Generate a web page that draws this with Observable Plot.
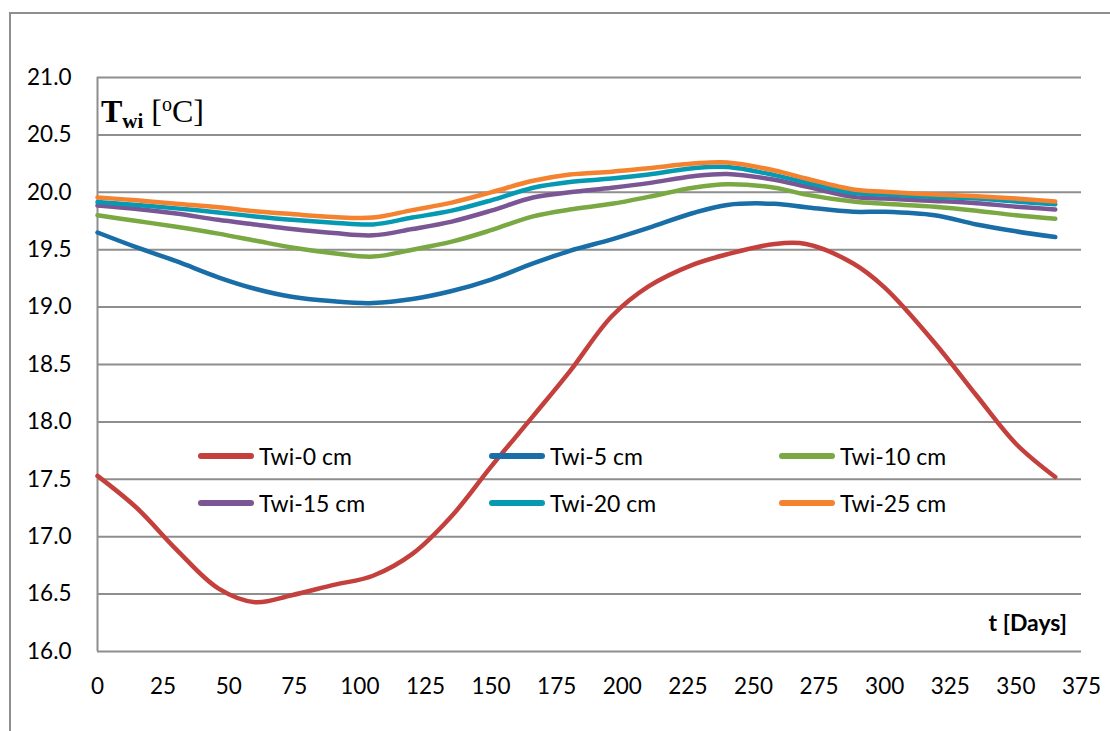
<!DOCTYPE html>
<html>
<head>
<meta charset="utf-8">
<script src="https://cdn.jsdelivr.net/npm/d3@7"></script>
<script src="https://cdn.jsdelivr.net/npm/@observablehq/plot@0.6"></script>
<style>
  html, body { margin: 0; padding: 0; background: #fff; }
  #wrap { position: relative; width: 1110px; height: 731px; overflow: hidden; background: #fff; }
  #frame { position: absolute; left: 9px; top: 12px; width: 1300px; height: 900px;
           border-left: 2px solid #8e8e8e; border-top: 2px solid #8e8e8e; }
  #chart { position: absolute; left: 0; top: 0; }
  #title { position: absolute; left: 101px; top: 94px; font-family: "Liberation Serif", serif;
           font-size: 32px; line-height: 1; color: #000; white-space: nowrap; }
  #title sub { font-size: 21px; font-weight: bold; vertical-align: -6px; }
  #title sup { font-size: 20px; vertical-align: 11px; }
  #xlabel { position: absolute; right: 43px; top: 608px; font-family: Lato, sans-serif;
            font-weight: bold; font-size: 23px; color: #000; white-space: nowrap; }
  #legend { position: absolute; left: 198px; top: 432px; font-family: Lato, sans-serif;
            font-size: 23px; color: #000; display: grid; grid-template-columns: 291px 290px 290px;
            grid-auto-rows: 47px; }
  .item { display: flex; align-items: center; white-space: nowrap; }
  .item svg { margin-right: 5px; }
</style>
</head>
<body>
<div id="wrap">
  <div id="frame"></div>
  <div id="chart"></div>
  <div id="title"><b>T<sub>wi</sub></b> [<sup>o</sup>C]</div>
  <div id="xlabel">t [Days]</div>
  <div id="legend"></div>
</div>
<script>
const days = [0, 15, 30, 46, 60, 74, 90, 105, 120, 135, 150, 166, 180, 196, 210, 227, 240, 258, 270, 288, 300, 319, 335, 350, 365];

const twi0  = [17.53, 17.25, 16.89, 16.55, 16.43, 16.49, 16.58, 16.66, 16.85, 17.18, 17.61, 18.05, 18.44, 18.92, 19.18, 19.37, 19.46, 19.55, 19.55, 19.38, 19.17, 18.69, 18.23, 17.81, 17.52];
const twi5  = [19.65, 19.52, 19.40, 19.26, 19.16, 19.09, 19.05, 19.035, 19.07, 19.14, 19.24, 19.38, 19.49, 19.59, 19.69, 19.82, 19.89, 19.90, 19.87, 19.83, 19.83, 19.80, 19.72, 19.66, 19.61];
const twi10 = [19.80, 19.75, 19.70, 19.64, 19.58, 19.52, 19.47, 19.44, 19.50, 19.57, 19.67, 19.79, 19.85, 19.90, 19.96, 20.04, 20.07, 20.04, 19.98, 19.92, 19.90, 19.875, 19.84, 19.80, 19.77];
const twi15 = [19.885, 19.855, 19.815, 19.76, 19.72, 19.68, 19.645, 19.625, 19.68, 19.745, 19.84, 19.955, 20.00, 20.04, 20.08, 20.14, 20.16, 20.11, 20.05, 19.96, 19.945, 19.925, 19.905, 19.875, 19.85];
const twi20 = [19.915, 19.89, 19.86, 19.825, 19.79, 19.76, 19.735, 19.72, 19.78, 19.84, 19.93, 20.04, 20.09, 20.12, 20.155, 20.21, 20.22, 20.15, 20.085, 19.995, 19.98, 19.96, 19.945, 19.92, 19.895];
const twi25 = [19.955, 19.93, 19.90, 19.87, 19.835, 19.81, 19.785, 19.78, 19.845, 19.91, 20.00, 20.10, 20.155, 20.18, 20.21, 20.25, 20.26, 20.19, 20.12, 20.025, 20.005, 19.98, 19.965, 19.945, 19.92];

const seriesNames = ["Twi-0 cm", "Twi-5 cm", "Twi-10 cm", "Twi-15 cm", "Twi-20 cm", "Twi-25 cm"];
const seriesColors = ["#c4403d", "#1a6ea8", "#7aa843", "#7a5694", "#069ab2", "#f5822e"];
const xTicks = [0, 25, 50, 75, 100, 125, 150, 175, 200, 225, 250, 275, 300, 325, 350, 375];
const yTicks = [16.0, 16.5, 17.0, 17.5, 18.0, 18.5, 19.0, 19.5, 20.0, 20.5, 21.0];

const seriesValues = [twi0, twi5, twi10, twi15, twi20, twi25];
const data = seriesNames.flatMap((name, k) =>
  days.map((t, i) => ({ t, v: seriesValues[k][i], name })));

const gridColor = "#8e8e8e";

const chart = Plot.plot({
  width: 1110,
  height: 731,
  marginLeft: 97,
  marginRight: 29,
  marginTop: 77,
  marginBottom: 80,
  style: { fontFamily: "Lato, sans-serif", fontSize: "22.5px", color: "#000", background: "transparent", overflow: "visible" },
  x: { domain: [0, 375], ticks: xTicks, tickSize: 0, tickPadding: 27, tickFormat: d => String(d), label: null },
  y: { domain: [16, 21], ticks: yTicks, tickSize: 0, tickPadding: 26, tickFormat: d => d.toFixed(1), label: null },
  color: { domain: seriesNames, range: seriesColors },
  marks: [
    Plot.gridY(yTicks, { stroke: gridColor, strokeOpacity: 1, strokeWidth: 2 }),
    Plot.ruleX([0], { stroke: gridColor, strokeWidth: 2 }),
    Plot.line(data, { x: "t", y: "v", z: "name", stroke: "name", strokeWidth: 4.5,
                      curve: "catmull-rom", strokeLinecap: "round", strokeLinejoin: "round" })
  ]
});
document.getElementById("chart").appendChild(chart);

const legend = document.getElementById("legend");
seriesNames.forEach((name, k) => {
  const item = document.createElement("div");
  item.className = "item";
  item.innerHTML = `<svg width="56" height="10"><line x1="3" y1="5" x2="53" y2="5" stroke="${seriesColors[k]}" stroke-width="6" stroke-linecap="round"/></svg><span>${name}</span>`;
  legend.appendChild(item);
});
</script>
</body>
</html>
